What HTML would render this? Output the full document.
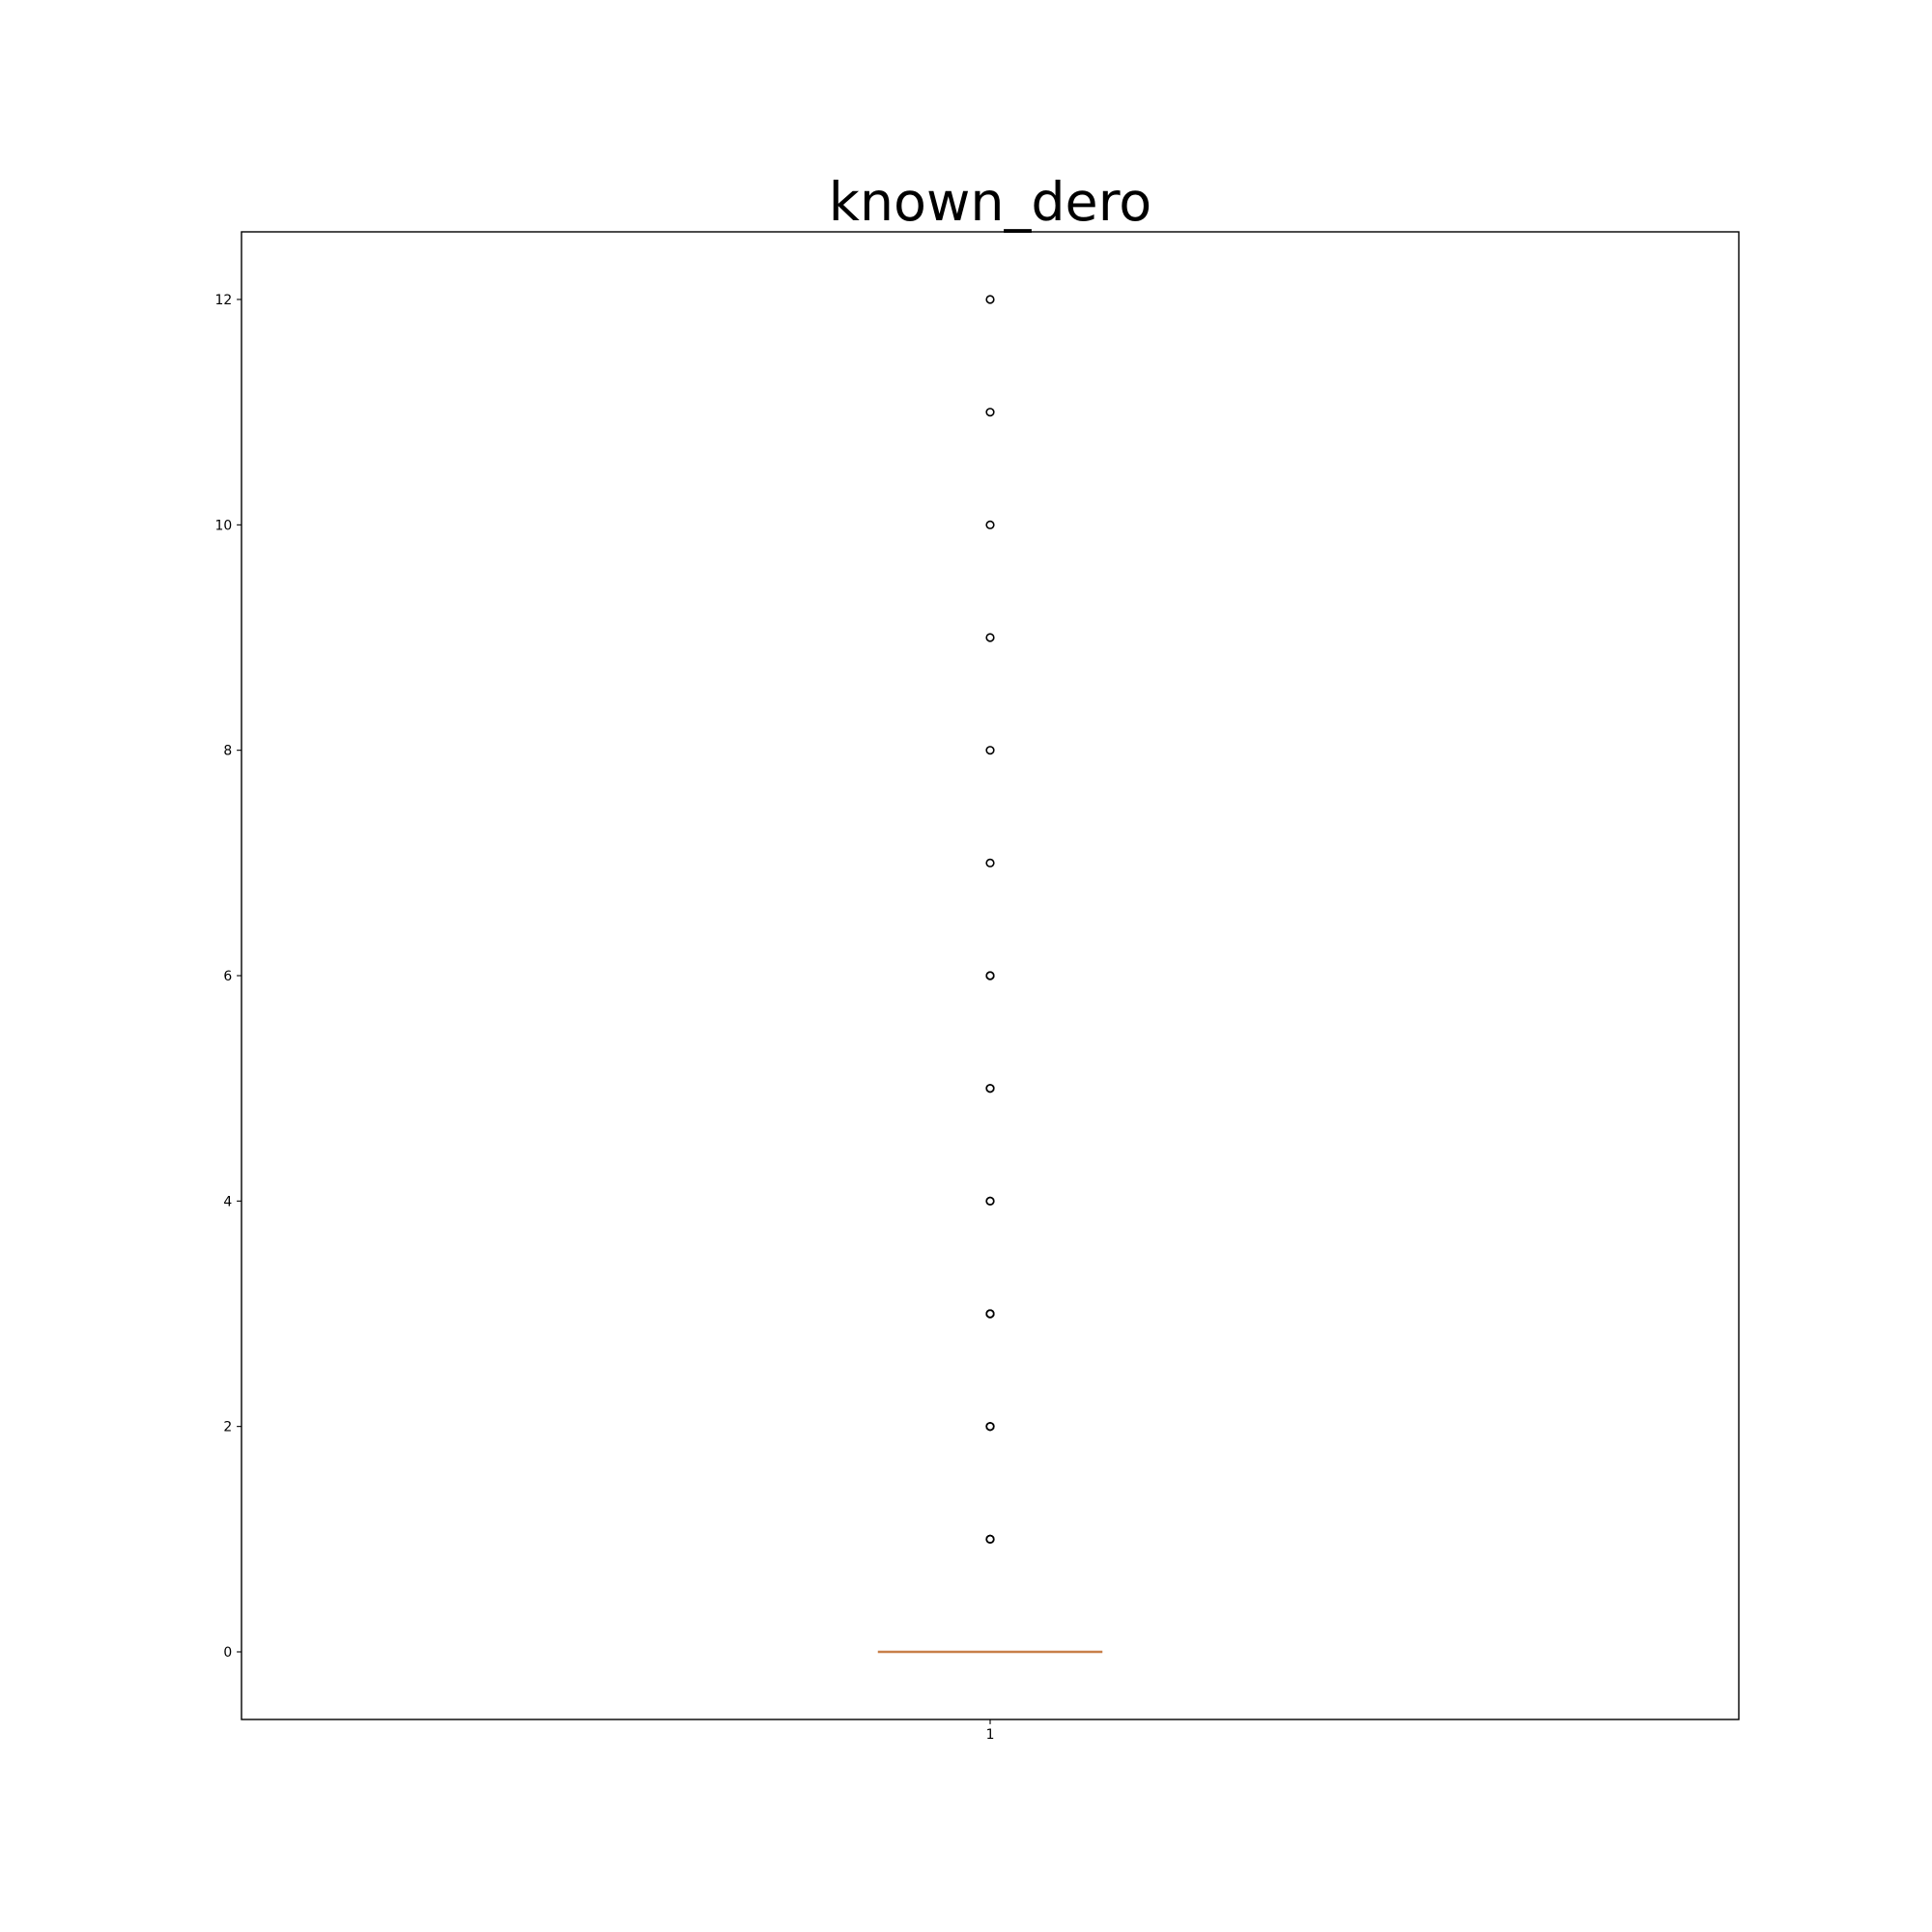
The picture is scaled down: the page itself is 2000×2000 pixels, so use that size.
<!DOCTYPE html>
<html><head><meta charset="utf-8"><style>
html,body{margin:0;padding:0;background:#fff;}
svg{display:block;font-family:"DejaVu Sans","Liberation Sans",sans-serif;}
</style></head><body>
<svg id="chart" width="2000" height="2000" viewBox="0 0 2000 2000" xmlns="http://www.w3.org/2000/svg">
<rect x="0" y="0" width="2000" height="2000" fill="#fff"/>
<text x="1025" y="228" font-size="55.5" text-anchor="middle" fill="#000">known_dero</text>
<g id="plot"></g>
<rect x="250" y="240" width="1550" height="1540" fill="none" stroke="#000" stroke-width="1.4"/>
</svg>
<script>
const categories = ["1"];
const q1 = [0];
const median = [0];
const q3 = [0];
const whiskerLow = [0];
const whiskerHigh = [0];
const outliers = [1,1,1,2,2,2,3,3,3,4,4,5,5,6,6,7,8,9,10,11,12];
const yTicks = [0,2,4,6,8,10,12];

const L=250,R=1800,T=240,B=1780;
const yMin=-0.6,yMax=12.6,xMin=0.5,xMax=1.5;
const sx=v=>L+(v-xMin)/(xMax-xMin)*(R-L);
const sy=v=>B-(v-yMin)/(yMax-yMin)*(B-T);
const NS="http://www.w3.org/2000/svg";
const g=document.getElementById('plot');
function mk(tag,attrs){const e=document.createElementNS(NS,tag);for(const k in attrs)e.setAttribute(k,attrs[k]);g.appendChild(e);return e;}

yTicks.forEach(t=>{
  const y=sy(t);
  const tk=mk('line',{x1:L-4.9,x2:L,y1:y,y2:y,stroke:'#000','stroke-width':1.1});
  
  
  const lb=mk('text',{x:L-9.8,y:y+5,'font-size':13.9,'text-anchor':'end',fill:'#000'});
  lb.textContent=t;
  
  
});

categories.forEach((c,i)=>{
  const pos=i+1,x=sx(pos);
  const tk=mk('line',{x1:x,x2:x,y1:B,y2:B+4.9,stroke:'#000','stroke-width':1.1});
  
  
  const lb=mk('text',{x:x,y:B+20,'font-size':13.9,'text-anchor':'middle',fill:'#000'});
  lb.textContent=c;
  
  
  const hw=0.075, cw=0.0375;
  const box=mk('rect',{x:sx(pos-hw),y:sy(q3[i]),width:sx(pos+hw)-sx(pos-hw),height:Math.max(0,sy(q1[i])-sy(q3[i])),fill:'none',stroke:'#000','stroke-width':1.4});
  
  
  const w1=mk('line',{x1:x,x2:x,y1:sy(q1[i]),y2:sy(whiskerLow[i]),stroke:'#000','stroke-width':1.4});
  
  
  const w2=mk('line',{x1:x,x2:x,y1:sy(q3[i]),y2:sy(whiskerHigh[i]),stroke:'#000','stroke-width':1.4});
  
  
  [whiskerLow[i],whiskerHigh[i]].forEach((v,k)=>{
    const cap=mk('line',{x1:sx(pos-cw),x2:sx(pos+cw),y1:sy(v),y2:sy(v),stroke:'#000','stroke-width':1.4});
    
    
  });
  const md=mk('line',{x1:sx(pos-hw),x2:sx(pos+hw),y1:sy(median[i]),y2:sy(median[i]),stroke:'#c8804a','stroke-width':2.4});
  
  
  outliers.forEach(v=>{
    const o=mk('circle',{cx:x,cy:sy(v),r:3.8,fill:'none',stroke:'#000','stroke-width':1.6});
    
    
  });
});
</script>
</body></html>
